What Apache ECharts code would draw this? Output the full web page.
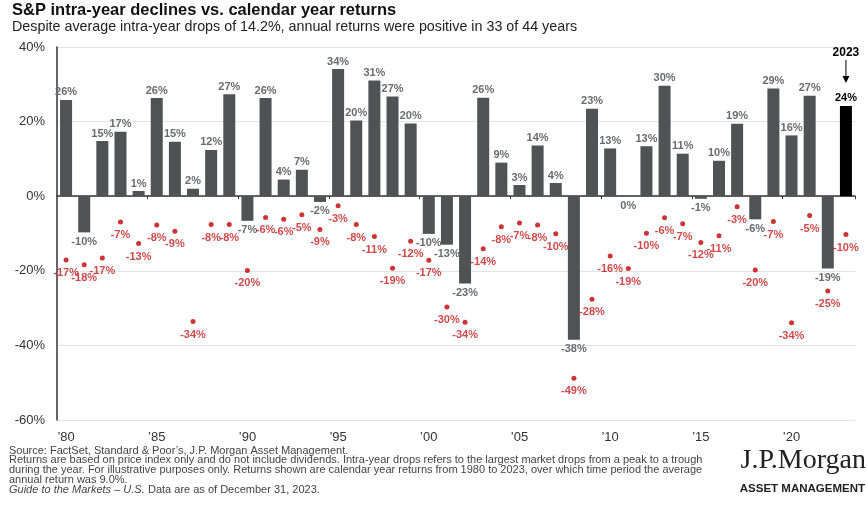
<!DOCTYPE html>
<html>
<head>
<meta charset="utf-8">
<script src="https://cdn.jsdelivr.net/npm/echarts@6/dist/echarts.min.js"></script>
<style>
html,body{margin:0;padding:0;background:#fff;}
#c{width:867px;height:508px;}
</style>
</head>
<body>
<div id="c"></div>
<script>
var years = [1980,1981,1982,1983,1984,1985,1986,1987,1988,1989,1990,1991,1992,1993,1994,1995,1996,1997,1998,1999,2000,2001,2002,2003,2004,2005,2006,2007,2008,2009,2010,2011,2012,2013,2014,2015,2016,2017,2018,2019,2020,2021,2022,2023];
var annualReturns = [25.8,-9.7,14.8,17.3,1.4,26.3,14.6,2.0,12.4,27.3,-6.6,26.3,4.46,7.1,-1.54,34.1,20.3,31.0,26.7,19.5,-10.1,-13.0,-23.4,26.4,9.0,3.0,13.6,3.53,-38.5,23.45,12.8,0.0,13.4,29.6,11.4,-0.7,9.5,19.4,-6.2,28.9,16.3,26.9,-19.4,24.2];
var intraYearDrops = [-17.1,-18.4,-16.6,-6.9,-12.7,-7.7,-9.4,-33.6,-7.6,-7.6,-19.9,-5.7,-6.2,-5.0,-8.9,-2.54,-7.6,-10.8,-19.3,-12.1,-17.2,-29.7,-33.8,-14.1,-8.2,-7.2,-7.7,-10.1,-48.8,-27.6,-16.0,-19.4,-9.9,-5.8,-7.4,-12.4,-10.6,-2.8,-19.8,-6.8,-33.9,-5.2,-25.4,-10.3];
var yTicks = [-60,-40,-20,0,20,40];
var titleText = 'S&P intra-year declines vs. calendar year returns';
var subtitleText = 'Despite average intra-year drops of 14.2%, annual returns were positive in 33 of 44 years';
var footLines = [
  'Source: FactSet, Standard & Poor\u2019s, J.P. Morgan Asset Management.',
  'Returns are based on price index only and do not include dividends. Intra-year drops refers to the largest market drops from a peak to a trough',
  'during the year. For illustrative purposes only. Returns shown are calendar year returns from 1980 to 2023, over which time period the average',
  'annual return was 9.0%.'
];
var footLast = ['Guide to the Markets \u2013 U.S.', 'Data are as of December 31, 2023.'];
var highlightYear = '2023';

var FONT = '"Liberation Sans", Arial, sans-serif';
var cats = years.map(String);
var last = cats.length - 1;

var barData = annualReturns.map(function (v, i) {
  var isLast = i === last;
  return {
    value: v,
    itemStyle: { color: isLast ? '#000000' : '#505254' },
    label: {
      position: v > 0 ? 'top' : 'bottom',
      distance: v > 0 ? 2 : 4,
      color: isLast ? '#000000' : '#6a6b6e'
    }
  };
});

var chart = echarts.init(document.getElementById('c'), null, { renderer: 'canvas' });
var option = {
  animation: false,
  backgroundColor: '#ffffff',
  textStyle: { fontFamily: FONT },
  grid: { left: 57, right: 12, top: 47, bottom: 88 },
  xAxis: [
    {
      type: 'category', data: cats, boundaryGap: true,
      axisLine: { onZero: true, lineStyle: { color: '#333', width: 1.5 } },
      axisTick: { show: true, length: 3, interval: function (i) { return i % 5 === 0 && i > 0; }, lineStyle: { color: '#333' } },
      axisLabel: { show: false }, splitLine: { show: false }
    },
    {
      type: 'category', data: cats, boundaryGap: true, position: 'bottom',
      axisLine: { show: false, onZero: false }, axisTick: { show: false },
      axisLabel: {
        interval: function (i) { return i % 5 === 0; },
        formatter: function (v) { return '\u2019' + v.slice(2); },
        color: '#333', fontSize: 13, margin: 11, fontFamily: FONT
      }
    }
  ],
  yAxis: {
    type: 'value', min: yTicks[0], max: yTicks[yTicks.length - 1], interval: 20,
    axisLine: { show: true, lineStyle: { color: '#333', width: 1.5 } },
    axisTick: { show: false },
    axisLabel: { formatter: '{value}%', color: '#333', fontSize: 13, margin: 12, fontFamily: FONT },
    splitLine: { show: true, lineStyle: { color: '#e3e3e3', width: 1 } }
  },
  series: [
    {
      type: 'bar', xAxisIndex: 0, data: barData, barWidth: 12,
      label: {
        show: true, fontSize: 11, fontWeight: 'bold', fontFamily: FONT,
        formatter: function (p) { return Math.round(p.value) + '%'; }
      },
      z: 2
    },
    {
      type: 'scatter', xAxisIndex: 0, data: intraYearDrops, symbolSize: 5,
      itemStyle: { color: '#c00000' },
      label: {
        show: true, position: 'bottom', distance: 5, color: '#c41a1a',
        fontSize: 11, fontWeight: 'bold', fontFamily: FONT,
        formatter: function (p) { return Math.round(p.value) + '%'; }
      },
      z: 3
    }
  ]
};
chart.setOption(option);

var graphics = [
  { type: 'text', left: 12, top: 2, style: { text: titleText, font: 'bold 16.5px ' + FONT, fill: '#111' } },
  { type: 'text', left: 12, top: 20, style: { text: subtitleText, font: '14.3px ' + FONT, fill: '#222' } }
];
footLines.forEach(function (t, i) {
  graphics.push({ type: 'text', left: 9, top: 445 + i * 9.7, style: { text: t, font: '11px ' + FONT, fill: '#444' } });
});
graphics.push({ type: 'text', left: 9, top: 484, style: { text: footLast[0], font: 'italic 11px ' + FONT, fill: '#444' } });
graphics.push({ type: 'text', left: 9 + 139, top: 484, style: { text: footLast[1], font: '11px ' + FONT, fill: '#444' } });
graphics.push({ type: 'text', right: 1, top: 447, style: { text: 'J.P.Morgan', font: '28px "Liberation Serif", "DejaVu Serif", serif', fill: '#222' } });
graphics.push({ type: 'text', right: 2, top: 483, style: { text: 'ASSET MANAGEMENT', font: 'bold 11.5px ' + FONT, fill: '#222' } });

// 2023 annotation placed from the chart's own scales
var pt = chart.convertToPixel({ seriesIndex: 0 }, [last, 40]);
var xc = pt[0];
graphics.push({ type: 'text', x: xc, y: 53, style: { text: highlightYear, font: 'bold 12px ' + FONT, fill: '#000', align: 'center', verticalAlign: 'middle' } });
graphics.push({ type: 'line', shape: { x1: xc, y1: 60, x2: xc, y2: 80 }, style: { stroke: '#000', lineWidth: 1 } });
graphics.push({ type: 'polygon', shape: { points: [[xc - 3.5, 76], [xc + 3.5, 76], [xc, 83]] }, style: { fill: '#000' } });

chart.setOption({ graphic: graphics });
</script>
</body>
</html>
